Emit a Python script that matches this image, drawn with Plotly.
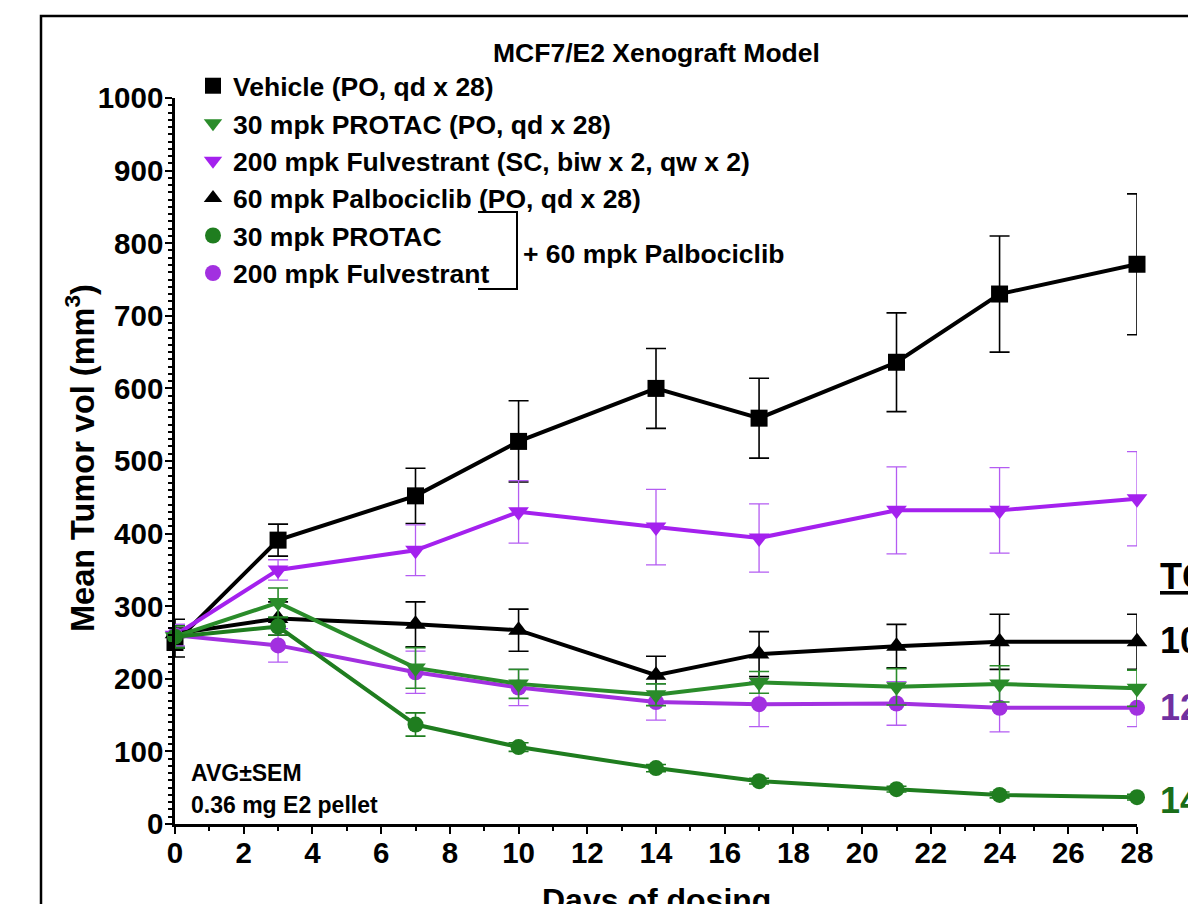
import plotly.graph_objects as go

# ---------------- data ----------------
days = [0, 3, 7, 10, 14, 17, 21, 24, 28]

vehicle = [250, 391, 452, 527, 600, 559, 636, 730, 771]
vehicle_err = [20, 22, 38, 56, 55, 55, 68, 80, 97]

protac = [258, 305, 215, 193, 178, 195, 189, 193, 187]
protac_err = [15, 20, 28, 20, 15, 15, 25, 25, 25]

fulv = [260, 350, 377, 430, 409, 394, 432, 432, 448]
fulv_err = [15, 14, 35, 43, 52, 47, 60, 59, 65]

palbo = [262, 283, 275, 267, 205, 234, 245, 251, 251]
palbo_err = [20, 23, 31, 29, 26, 31, 30, 38, 38]

protac_palbo = [258, 272, 137, 106, 77, 59, 48, 40, 37]
protac_palbo_err = [15, 12, 16, 6, 5, 4, 4, 4, 4]

fulv_palbo = [260, 246, 209, 188, 168, 165, 166, 160, 160]
fulv_palbo_err = [15, 23, 29, 25, 25, 31, 30, 33, 26]

legend_labels = [
    "Vehicle (PO, qd x 28)",
    "30 mpk PROTAC (PO, qd x 28)",
    "200 mpk Fulvestrant (SC, biw x 2, qw x 2)",
    "60 mpk Palbociclib (PO, qd x 28)",
    "30 mpk PROTAC",
    "200 mpk Fulvestrant",
]
x_ticks = list(range(0, 29, 2))
y_ticks = list(range(0, 1001, 100))

# ---------------- style ----------------
FONT = "Liberation Sans, Arial, sans-serif"
BLACK = "#000000"
GREEN = "#1f7d1f"
GREEN2 = "#2a8c2a"
PURPLE = "#a421ee"
PURPLE2 = "#a230e0"

OFF = 8  # page body margin
W, H = 1196, 904
L, T = 167, 90
PW, PH = 962, 726
R = W - L - PW
B = H - T - PH


def px(xs):
    # screen pixel x -> paper x
    return (xs - OFF - L) / PW


def py(ys):
    # screen pixel y -> paper y
    return (OFF + T + PH - ys) / PH


series = [
    # (y, err, color, errcolor, symbol, size, err thickness)
    (vehicle, vehicle_err, BLACK, BLACK, "square", 17, 1.6),
    (fulv, fulv_err, PURPLE, "#b45cf2", "triangle-down", 18, 1.3),
    (palbo, palbo_err, BLACK, BLACK, "triangle-up", 18, 1.6),
    (fulv_palbo, fulv_palbo_err, PURPLE2, "#b45cf2", "circle", 16, 1.3),
    (protac, protac_err, GREEN2, GREEN2, "triangle-down", 18, 1.6),
    (protac_palbo, protac_palbo_err, GREEN, GREEN, "circle", 16, 1.6),
]

fig = go.Figure()
for y, e, c, ec, sym, sz, th in series:
    fig.add_trace(go.Scatter(
        x=days, y=y, mode="lines+markers",
        line=dict(color=c, width=4),
        marker=dict(symbol=sym, size=sz, color=c),
        error_y=dict(type="data", array=e, visible=True, color=ec,
                     thickness=th, width=10),
        cliponaxis=False, showlegend=False, hoverinfo="skip",
    ))

# legend-only marker entries
legend_style = [(BLACK, "square"), (GREEN2, "triangle-down"),
                (PURPLE, "triangle-down"), (BLACK, "triangle-up"),
                (GREEN, "circle"), (PURPLE2, "circle")]
for i, lab in enumerate(legend_labels):
    c, sym = legend_style[i]
    fig.add_trace(go.Scatter(
        x=[None], y=[None], mode="markers", name=lab,
        marker=dict(symbol=sym, size=17, color=c), showlegend=True,
    ))

shapes = [
    # outer frame
    dict(type="rect", xref="paper", yref="paper", x0=px(41), x1=px(1300),
         y0=py(1000), y1=py(16), line=dict(color=BLACK, width=2.5)),
    # bracket
    dict(type="path", xref="paper", yref="paper",
         path=f"M {px(478)} {py(212)} L {px(517)} {py(212)} L {px(517)} {py(289)} L {px(478)} {py(289)}",
         line=dict(color=BLACK, width=2)),
]

bold = dict(family=FONT, color=BLACK, weight="bold")


def ann(text, xs, ys, size, xanchor="left", yanchor="middle", color=BLACK, **kw):
    return dict(text=text, x=px(xs), y=py(ys), xref="paper", yref="paper",
                showarrow=False, xanchor=xanchor, yanchor=yanchor,
                font=dict(size=size, family=FONT, color=color, weight="bold"), **kw)


annotations = [
    ann("MCF7/E2 Xenograft Model", 656, 53, 26.5, xanchor="center"),
    ann("+ 60 mpk Palbociclib", 521, 254, 26.5),
    ann("Mean Tumor vol (mm<sup>3</sup>)", 80, 458, 32.5, xanchor="center", textangle=-90),
    ann("Days of dosing", 656, 880, 32, xanchor="center", yanchor="top"),
    ann("AVG±SEM", 189, 773, 23),
    ann("0.36 mg E2 pellet", 189, 805, 23),
    ann("<u>TG</u>", 1158, 576, 36),
    ann("10", 1158, 640, 36),
    ann("12", 1158, 707, 36, color="#7030a0"),
    ann("14", 1158, 800, 36, color="#1a6e1a"),
]

axis_common = dict(
    showline=True, linecolor=BLACK, linewidth=2.5, mirror=False,
    ticks="outside", ticklen=7, tickwidth=2, tickcolor=BLACK,
    showgrid=False, zeroline=False,
    tickfont=dict(size=29.5, **bold),
)

fig.update_layout(
    width=W, height=H,
    margin=dict(l=L, r=R, t=T, b=B, autoexpand=False),
    paper_bgcolor="white", plot_bgcolor="white",
    xaxis=dict(range=[0, 28], tickvals=x_ticks, ticktext=[str(v) for v in x_ticks],
               ticklabelstandoff=-6,
               minor=dict(dtick=1, ticklen=4, tickwidth=1.5, tickcolor=BLACK, ticks="outside"),
               **axis_common),
    yaxis=dict(range=[0, 1000], tickvals=y_ticks, ticktext=[str(v) for v in y_ticks],
               ticklabelstandoff=-4,
               minor=dict(dtick=10, ticklen=4, tickwidth=1.5, tickcolor=BLACK, ticks="outside"),
               **axis_common),
    legend=dict(x=px(193), y=py(62), xanchor="left", yanchor="top",
                bgcolor="rgba(0,0,0,0)", font=dict(size=26.5, **bold),
                tracegroupgap=0, itemclick=False, traceorder="normal"),
    shapes=shapes, annotations=annotations,
    showlegend=True,
)

fig.write_html("out.html")
